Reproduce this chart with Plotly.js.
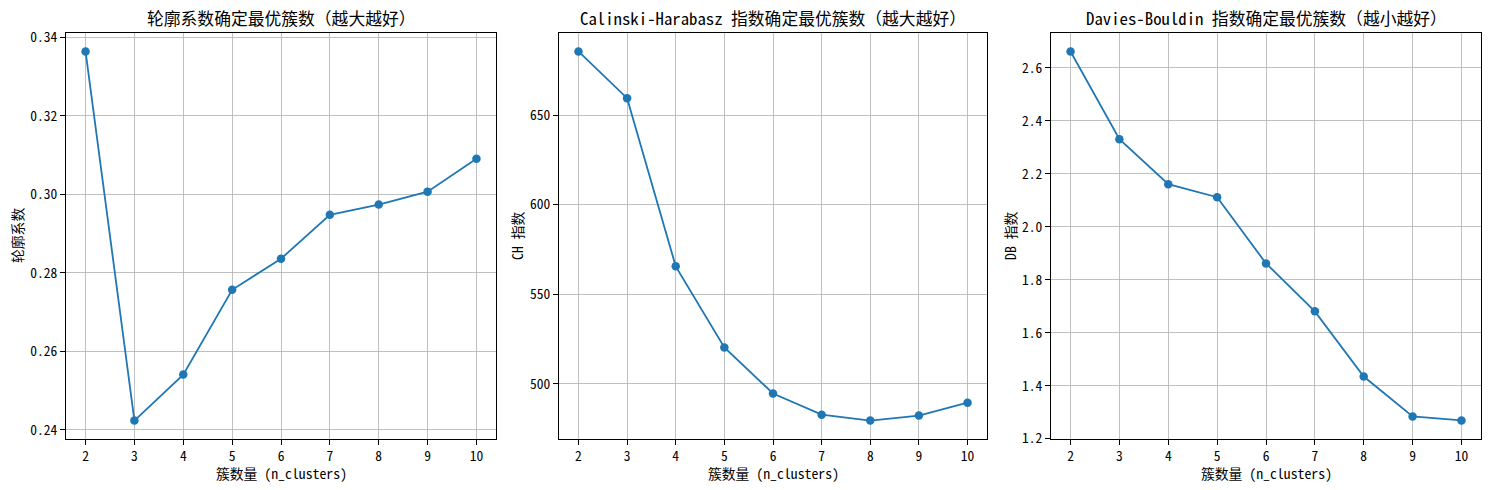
<!DOCTYPE html>
<html>
<head>
<meta charset="utf-8">
<script src="https://cdn.plot.ly/plotly-3.0.1.min.js"></script>
<style>html,body{margin:0;padding:0;background:#fff;}#chart{width:1489px;height:490px;}</style>
</head>
<body>
<div id="chart"></div>
<script>
const clusters = [2, 3, 4, 5, 6, 7, 8, 9, 10];
const silhouette = [0.3364, 0.2424, 0.2541, 0.2757, 0.2836, 0.2948, 0.2974, 0.3007, 0.3091];
const chIndex = [685.6, 659.5, 565.6, 520.3, 494.6, 482.8, 479.5, 482.3, 489.5];
const dbIndex = [2.662, 2.331, 2.161, 2.112, 1.862, 1.681, 1.435, 1.284, 1.269];
const titles = ['轮廓系数确定最优簇数（越大越好）', 'Calinski-Harabasz 指数确定最优簇数（越大越好）', 'Davies-Bouldin 指数确定最优簇数（越小越好）'];
const yTitles = ['轮廓系数', 'CH 指数', 'DB 指数'];
const xTitle = '簇数量 (n_clusters)';

const W = 1489, H = 490;
const FONT = '"Noto Sans Mono CJK SC", "Noto Sans CJK SC", "DejaVu Sans Mono", sans-serif';
const color = '#1f77b4';
const panels = [
  {x0: 66, x1: 496, ytitleX: 17, y: silhouette, range: [0.2377, 0.3411], dtick: 0.02, fmt: '.2f'},
  {x0: 559, x1: 987, ytitleX: 517, y: chIndex, range: [469.2, 695.9], dtick: 50, fmt: 'd'},
  {x0: 1051, x1: 1481, ytitleX: 1010, y: dbIndex, range: [1.199, 2.732], dtick: 0.2, fmt: '.1f'}
];
const yTop = 33, yBot = 439;

const data = [];
const layout = {
  width: W, height: H,
  margin: {l: 0, r: 0, t: 0, b: 0},
  paper_bgcolor: '#fff', plot_bgcolor: '#fff',
  showlegend: false,
  font: {family: FONT, size: 13, color: '#000'},
  annotations: []
};

panels.forEach((p, i) => {
  const n = i === 0 ? '' : String(i + 1);
  data.push({
    x: clusters, y: p.y, type: 'scatter', mode: 'lines+markers',
    xaxis: 'x' + n, yaxis: 'y' + n,
    line: {color: color, width: 1.8},
    marker: {color: color, size: 8.5},
    cliponaxis: false
  });
  const common = {
    showline: true, mirror: true, linecolor: '#000', linewidth: 1,
    showgrid: true, gridcolor: '#b0b0b0', gridwidth: 0.8,
    ticks: 'outside', ticklen: 5, tickcolor: '#000', tickwidth: 1,
    zeroline: false,
    tickfont: {family: FONT, size: 13.5, color: '#000'}
  };
  layout['xaxis' + n] = Object.assign({}, common, {
    domain: [p.x0 / W, p.x1 / W],
    range: [1.6, 10.4], tickmode: 'array', tickvals: clusters, ticktext: clusters.map(String),
    anchor: 'y' + n
  });
  layout['yaxis' + n] = Object.assign({}, common, {
    domain: [(H - yBot) / H, (H - yTop) / H],
    range: p.range, dtick: p.dtick, tick0: 0, tickformat: p.fmt,
    anchor: 'x' + n
  });
  layout.annotations.push({
    text: titles[i], xref: 'paper', yref: 'paper',
    x: ((p.x0 + p.x1) / 2) / W, y: (H - 18) / H,
    xanchor: 'center', yanchor: 'middle', showarrow: false,
    font: {family: FONT, size: 16.8, color: '#000'}
  });
  layout.annotations.push({
    text: xTitle, xref: 'paper', yref: 'paper',
    x: ((p.x0 + p.x1) / 2) / W, y: (H - 473) / H,
    xanchor: 'center', yanchor: 'middle', showarrow: false,
    borderpad: 0,
    font: {family: FONT, size: 13.8, color: '#000'}
  });
  layout.annotations.push({
    text: yTitles[i], xref: 'paper', yref: 'paper',
    x: p.ytitleX / W, y: (H - (yTop + yBot) / 2) / H,
    xanchor: 'center', yanchor: 'middle', showarrow: false, textangle: -90,
    borderpad: 0,
    font: {family: FONT, size: 13.8, color: '#000'}
  });
});

Plotly.newPlot('chart', data, layout, {displayModeBar: false, staticPlot: true});
</script>
</body>
</html>
